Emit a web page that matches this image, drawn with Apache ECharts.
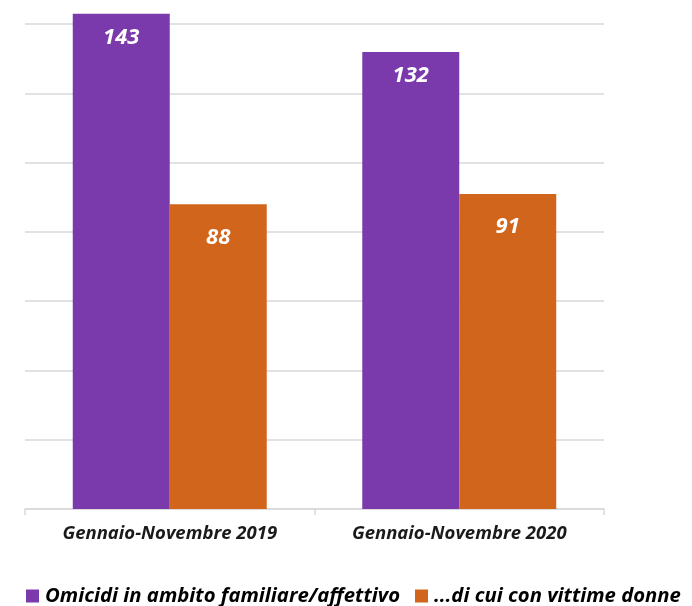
<!DOCTYPE html>
<html>
<head>
<meta charset="utf-8">
<script src="https://cdn.jsdelivr.net/npm/echarts@6/dist/echarts.min.js"></script>
<style>html,body{margin:0;padding:0;background:#fff}#c{width:692px;height:606px}</style>
</head>
<body>
<div id="c"></div>
<script>
const categories = ['Gennaio-Novembre 2019', 'Gennaio-Novembre 2020'];
const seriesNames = ['Omicidi in ambito familiare/affettivo', '...di cui con vittime donne'];
const omicidi = [143, 132];
const donne = [88, 91];

const chart = echarts.init(document.getElementById('c'));
const font = '"Open Sans", "Liberation Sans", sans-serif';
const labelStyle = {
  show: true, position: 'insideTop', distance: 13,
  color: '#fff', fontSize: 22, fontWeight: 'bold', fontStyle: 'italic', fontFamily: font
};
chart.setOption({
  animation: false,
  grid: { left: 25, right: 88, top: 0, bottom: 97, containLabel: false },
  legend: {
    top: 586, left: 26, width: 666, padding: 0,
    itemWidth: 13, itemHeight: 13, itemGap: 15,
    icon: 'rect',
    textStyle: { color: '#000', fontSize: 20.3, fontWeight: 'bold', fontStyle: 'italic', fontFamily: font, padding: [0, 0, 0, 1] }
  },
  xAxis: {
    type: 'category', data: categories,
    axisLine: { lineStyle: { color: '#d9d9d9', width: 1.5 } },
    axisTick: { show: true, length: 6, lineStyle: { color: '#d9d9d9', width: 1.5 } },
    axisLabel: { color: '#1a1a1a', fontSize: 18.5, fontWeight: 'bold', fontStyle: 'italic', fontFamily: font, margin: 15 }
  },
  yAxis: {
    type: 'value', min: 0, max: 147, interval: 20,
    axisLabel: { show: false },
    axisLine: { show: false }, axisTick: { show: false },
    splitLine: { showMaxLine: false, lineStyle: { color: '#d9d9d9', width: 1.5 } }
  },
  series: [
    { name: seriesNames[0], type: 'bar', data: omicidi, barCategoryGap: '33%', barGap: '0%',
      itemStyle: { color: '#7a3aab' }, label: labelStyle },
    { name: seriesNames[1], type: 'bar', data: donne, barCategoryGap: '33%', barGap: '0%',
      itemStyle: { color: '#d2651c' }, label: Object.assign({}, labelStyle, { distance: 22 }) }
  ]
});
</script>
</body>
</html>
